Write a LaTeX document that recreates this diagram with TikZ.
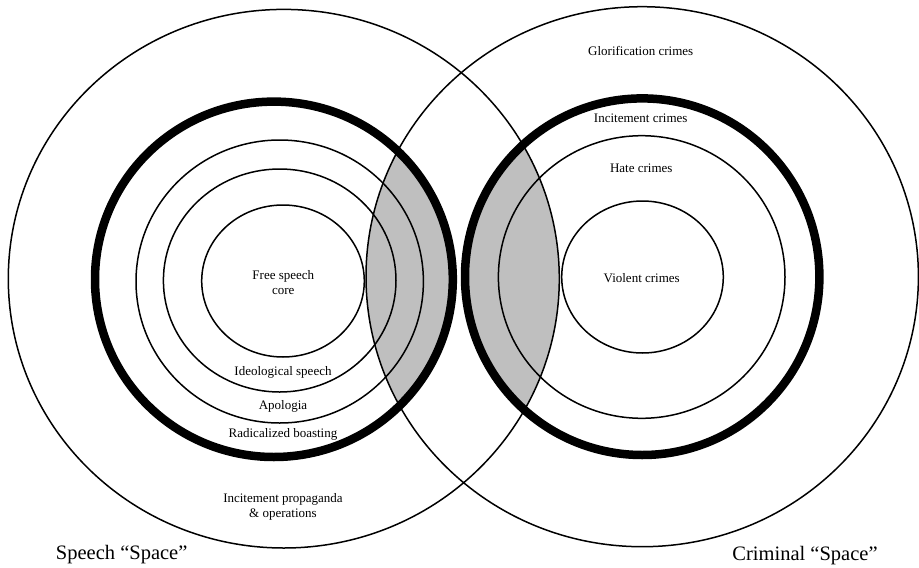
\documentclass[tikz,border=0pt]{standalone}
\usepackage{fontspec}
\setmainfont{Liberation Serif}
\begin{document}
\begin{tikzpicture}[x=1pt,y=-1pt]
  \tikzstyle{ring}=[line width=1.5pt]
  \tikzstyle{border}=[line width=8.5pt]
  \tikzstyle{label}=[font=\fontsize{13}{15}\selectfont, align=center, inner sep=0pt]
  \tikzstyle{space}=[font=\fontsize{20.5}{23}\selectfont, inner sep=0pt]
  \useasboundingbox (0,0) rectangle (919,568);
  % grey overlaps
  \begin{scope}
    \clip (273.9,279.3) ellipse [x radius=178.9, y radius=177.7];
    \fill[black!25] (642.2,276.7) ellipse [x radius=276.2, y radius=270];
  \end{scope}
  \begin{scope}
    \clip (642.2,276.7) ellipse [x radius=177.2, y radius=178.3];
    \fill[black!25] (283.8,278.7) ellipse [x radius=275.5, y radius=269.3];
  \end{scope}
  % speech space
  \draw[ring] (283.8,278.7) ellipse [x radius=275.5, y radius=269.3];
  \draw[border] (273.9,279.3) ellipse [x radius=178.9, y radius=177.7];
  \draw[ring] (279.7,281.5) ellipse [x radius=143.7, y radius=141.5];
  \draw[ring] (279.7,280.5) ellipse [x radius=116.3, y radius=111.5];
  \draw[ring] (283,281) ellipse [x radius=81.3, y radius=76];
  % criminal space
  \draw[ring] (642.2,276.7) ellipse [x radius=276.2, y radius=270];
  \draw[border] (642.2,276.7) ellipse [x radius=177.2, y radius=178.3];
  \draw[ring] (641.7,277) ellipse [x radius=143.3, y radius=141.3];
  \draw[ring] (642.5,277) ellipse [x radius=80.8, y radius=76];
  \node[label] (core) at (283.3,282.5) {Free speech\\core};
  \node[label] (ideo) at (283,372.7) {Ideological speech};
  \node[label] (apol) at (283,406.7) {Apologia};
  \node[label] (boast) at (283,434) {Radicalized boasting};
  \node[label] (prop) at (283,507.2) {Incitement propaganda\\\& operations};
  \node[label] (glor) at (640.7,50.7) {Glorification crimes};
  \node[label] (incit) at (640.7,118.3) {Incitement crimes};
  \node[label] (hate) at (641.3,168.3) {Hate crimes};
  \node[label] (viol) at (641.7,277.7) {Violent crimes};
  \node[space] (speech) at (121.7,555) {Speech “Space”};
  \node[space] (crime) at (805,556) {Criminal “Space”};
\end{tikzpicture}
\end{document}
